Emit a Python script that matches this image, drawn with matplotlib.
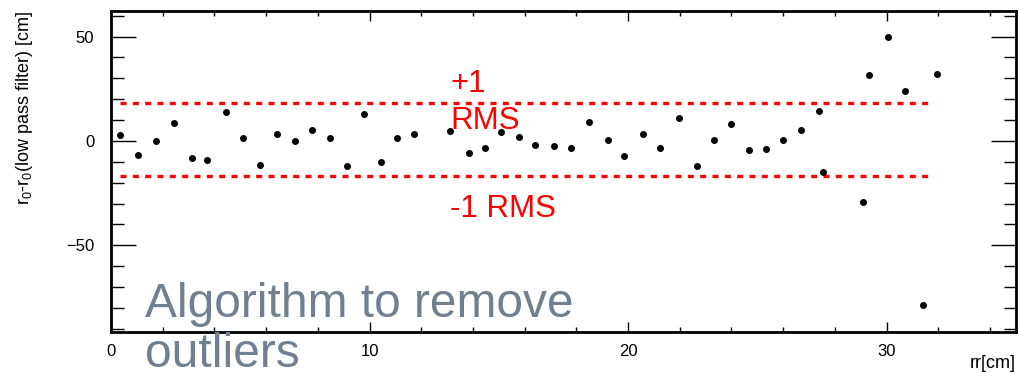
import matplotlib
matplotlib.use("Agg")
import matplotlib.pyplot as plt
from matplotlib.ticker import MultipleLocator

plt.rcParams['font.family'] = ['Liberation Sans', 'DejaVu Sans']
plt.rcParams['mathtext.fontset'] = 'custom'
plt.rcParams['mathtext.rm'] = 'Liberation Sans'
plt.rcParams['mathtext.it'] = 'Liberation Sans:italic'

# data
rr = [0.35, 1.03, 1.75, 2.43, 3.15, 3.72, 4.44, 5.12, 5.76, 6.43,
      7.11, 7.77, 8.47, 9.12, 9.77, 10.43, 11.08, 11.72, 13.12, 13.83,
      14.45, 15.10, 15.77, 16.41, 17.15, 17.80, 18.49, 19.21, 19.85, 20.57,
      21.25, 21.96, 22.66, 23.31, 23.99, 24.66, 25.32, 25.99, 26.70, 27.38,
      27.55, 29.07, 29.34, 30.04, 30.73, 31.41, 31.94]
dr = [2.9, -6.9, 0.0, 8.8, -8.0, -9.1, 13.9, 1.6, -11.5, 3.5,
      0.0, 5.4, 1.6, -12.1, 12.8, -10.0, 1.6, 3.5, 4.6, -5.6,
      -3.3, 4.2, 1.8, -2.1, -2.2, -3.5, 9.3, 0.3, -7.0, 3.2,
      -3.3, 11.0, -11.8, 0.3, 8.3, -4.5, -3.8, 0.5, 5.4, 14.3,
      -14.7, -29.3, 31.8, 49.6, 23.9, -78.7, 32.0]
rms_plus = 18.0
rms_minus = -16.6
rms_range = [0.35, 31.82]

fig = plt.figure(figsize=(10.2, 3.73), dpi=100)
ax = fig.add_axes([0.1088, 0.1088, 0.9959 - 0.1088, 0.9713 - 0.1088])

ax.plot(rr, dr, 'o', color='black', markersize=4, zorder=3)

ls = (0, (1.8, 1.9))
ax.hlines([rms_plus, rms_minus], rms_range[0], rms_range[1],
          colors='red', linewidth=2.4, linestyles=ls, zorder=2)

ax.text(13.12, 23.5, '+1', color='red', fontsize=22.5, ha='left', va='baseline')
ax.text(13.12, 5.5, 'RMS', color='red', fontsize=22.5, ha='left', va='baseline')
ax.text(13.12, -36.6, '-1 RMS', color='red', fontsize=22.5, ha='left', va='baseline')

ax.set_xlim(0, 35)
ax.set_ylim(-91.7, 62.4)

ax.xaxis.set_major_locator(MultipleLocator(10))
ax.xaxis.set_minor_locator(MultipleLocator(2))
ax.yaxis.set_major_locator(MultipleLocator(50))
ax.yaxis.set_minor_locator(MultipleLocator(10))

ax.tick_params(axis='both', which='both', direction='in', top=True, right=True,
               labelsize=12, width=1)
ax.tick_params(axis='y', which='major', length=18, pad=12)
ax.tick_params(axis='y', which='minor', length=9)
ax.tick_params(axis='x', which='major', length=7, pad=8)
ax.tick_params(axis='x', which='minor', length=3.5)

for sp in ax.spines.values():
    sp.set_linewidth(2)

ax.set_ylabel(r'r$_\mathrm{0}$-r$_\mathrm{0}$(low pass filter) [cm]',
              fontsize=13, loc='top')
ax.yaxis.set_label_coords(-0.084, 1.0)
ax.set_xlabel('rr[cm]', fontsize=13, loc='right')
ax.xaxis.set_label_coords(1.0, -0.07)

fig.text(145 / 1020, 1 - 367 / 373, 'Algorithm to remove\noutliers',
         color='#708090', fontsize=34.5, ha='left', va='baseline',
         linespacing=1.15, zorder=5)

fig.savefig('out.png', dpi=100)
